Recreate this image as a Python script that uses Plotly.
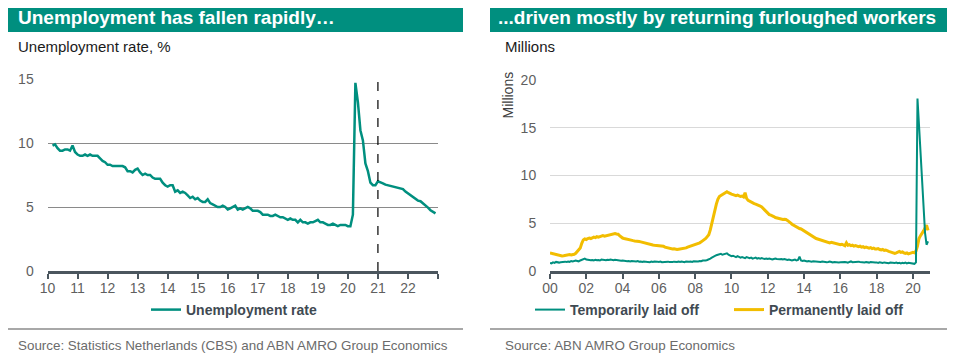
import plotly.graph_objects as go

W, H = 955, 361
# the page body adds an 8px margin around the figure; positions below are page pixels
PAGE_OFFSET = 8
TEAL = "#008f7f"
YELLOW = "#f2bd00"
FONT = "Liberation Sans, Arial, sans-serif"

# ---------------- Left chart data: unemployment rate, % (monthly) ----------------
left_start = (2010, 3)
unemployment_rate = [
    9.8, 9.9, 9.6, 9.4, 9.4, 9.5, 9.5, 9.4, 9.8, 9.3,
    9.1, 9.0, 9.0, 9.1, 9.0, 9.1, 9.0, 9.0, 9.0, 8.8, 8.6, 8.5,
    8.3, 8.3, 8.2, 8.2, 8.2, 8.2, 8.2, 8.1, 7.8, 7.8, 7.7, 7.9,
    8.0, 7.7, 7.5, 7.6, 7.5, 7.5, 7.3, 7.2, 7.2, 7.2, 6.9, 6.7,
    6.6, 6.7, 6.7, 6.2, 6.3, 6.1, 6.2, 6.1, 5.9, 5.7, 5.8, 5.6,
    5.7, 5.5, 5.4, 5.4, 5.6, 5.3, 5.2, 5.1, 5.0, 5.0, 5.1, 5.0,
    4.8, 4.9, 5.0, 5.1, 4.8, 4.9, 4.8, 4.9, 5.0, 4.9, 4.7, 4.7,
    4.7, 4.6, 4.4, 4.4, 4.4, 4.3, 4.3, 4.4, 4.3, 4.2, 4.2, 4.1,
    4.0, 4.1, 4.0, 4.0, 3.8, 4.0, 3.8, 3.8, 3.7, 3.8, 3.8, 3.9,
    4.0, 3.8, 3.8, 3.7, 3.6, 3.6, 3.7, 3.6, 3.5, 3.6, 3.6, 3.6,
    3.5, 3.5, 4.4, 14.7, 13.2, 11.0, 10.2, 8.4, 7.8, 6.9, 6.7, 6.7,
    7.0, 6.95, 6.85, 6.75, 6.7, 6.65, 6.6, 6.55, 6.5, 6.5, 6.4, 6.2,
    6.05, 5.9, 5.75, 5.6, 5.5, 5.45, 5.3, 5.1, 4.95, 4.75, 4.65, 4.5,
]
left_years = list(range(2010, 2024))
left_ticktext = ["10", "11", "12", "13", "14", "15", "16", "17", "18", "19", "20", "21", "22", ""]
left_yticks = [0, 5, 10, 15]
forecast_start = 2021

# ---------------- Right chart data: millions (monthly) ----------------
right_start = (2000, 1)
temporarily_laid_off = [
    0.85, 0.80, 0.90, 0.85, 0.95, 0.90, 0.88, 0.92, 0.95, 0.90, 0.98, 0.95,
    1.00, 0.95, 1.05, 1.00, 1.05, 1.10, 1.05, 1.00, 1.10, 1.15, 1.20, 1.30,
    1.20, 1.15, 1.10, 1.12, 1.15, 1.10, 1.18, 1.12, 1.15, 1.10, 1.20, 1.15,
    1.15, 1.12, 1.18, 1.15, 1.20, 1.15, 1.12, 1.18, 1.15, 1.10, 1.12, 1.08,
    1.10, 1.05, 1.08, 1.02, 1.05, 1.00, 1.05, 1.02, 0.98, 1.00, 1.05, 0.98,
    1.00, 0.95, 1.00, 0.98, 0.95, 1.00, 0.92, 0.98, 0.95, 1.00, 0.95, 0.98,
    0.95, 0.98, 0.92, 0.95, 1.00, 0.95, 0.98, 0.95, 0.92, 0.95, 0.98, 0.95,
    0.95, 1.00, 0.95, 1.00, 0.98, 0.92, 1.00, 0.95, 0.98, 1.00, 0.95, 1.02,
    1.00, 1.05, 1.00, 1.05, 1.02, 1.10, 1.08, 1.10, 1.15, 1.20, 1.30, 1.40,
    1.50, 1.60, 1.65, 1.70, 1.75, 1.80, 1.70, 1.75, 1.80, 1.85, 1.70, 1.65,
    1.55, 1.60, 1.50, 1.45, 1.55, 1.50, 1.40, 1.45, 1.40, 1.35, 1.45, 1.40,
    1.35, 1.40, 1.30, 1.35, 1.40, 1.30, 1.35, 1.30, 1.35, 1.30, 1.25, 1.30,
    1.25, 1.30, 1.25, 1.20, 1.25, 1.30, 1.25, 1.20, 1.22, 1.25, 1.20, 1.25,
    1.20, 1.15, 1.20, 1.15, 1.10, 1.15, 1.20, 1.10, 1.15, 1.50, 1.10, 1.05,
    1.10, 1.05, 1.00, 1.05, 1.00, 0.98, 1.02, 1.00, 0.95, 1.00, 0.98, 0.95,
    1.00, 0.95, 0.98, 0.92, 0.95, 1.00, 0.95, 0.90, 0.95, 0.92, 0.95, 0.90,
    0.92, 0.95, 0.90, 0.95, 0.92, 0.88, 0.95, 1.00, 0.92, 0.95, 0.90, 0.95,
    0.98, 0.95, 0.92, 0.95, 0.90, 0.95, 0.92, 0.88, 0.95, 0.90, 0.92, 0.88,
    0.90, 0.85, 0.92, 0.88, 0.85, 0.90, 0.88, 0.85, 0.82, 0.88, 0.85, 0.90,
    0.85, 0.88, 0.82, 0.85, 0.80, 0.85, 0.82, 0.88, 0.80, 0.85, 0.82, 0.80,
    0.80, 0.75, 0.90, 18.05, 15.3, 12.5, 9.6, 6.8, 4.0, 2.75, 3.1,
]
permanently_laid_off = [
    1.90, 1.85, 1.80, 1.75, 1.70, 1.65, 1.60, 1.62, 1.58, 1.60, 1.65, 1.70,
    1.75, 1.72, 1.68, 1.70, 1.75, 1.85, 2.00, 2.20, 2.40, 2.90, 3.25, 3.35,
    3.30, 3.40, 3.45, 3.40, 3.50, 3.55, 3.50, 3.60, 3.55, 3.60, 3.65, 3.70,
    3.65, 3.70, 3.75, 3.72, 3.80, 3.85, 3.90, 3.92, 3.88, 3.85, 3.70, 3.55,
    3.45, 3.40, 3.35, 3.30, 3.28, 3.25, 3.20, 3.18, 3.15, 3.10, 3.12, 3.08,
    3.05, 3.00, 2.95, 2.92, 2.90, 2.85, 2.80, 2.75, 2.72, 2.70, 2.68, 2.65,
    2.60, 2.58, 2.55, 2.60, 2.50, 2.45, 2.40, 2.38, 2.35, 2.30, 2.32, 2.28,
    2.25, 2.28, 2.30, 2.32, 2.35, 2.40, 2.42, 2.50, 2.55, 2.60, 2.65, 2.72,
    2.80, 2.85, 2.90, 2.95, 3.05, 3.15, 3.25, 3.40, 3.60, 3.80, 4.30, 5.00,
    5.80, 6.50, 7.00, 7.50, 7.80, 7.90, 8.00, 8.10, 8.20, 8.30, 8.20, 8.10,
    8.05, 8.00, 7.95, 7.90, 7.95, 7.85, 7.80, 7.85, 7.75, 8.20, 7.60, 7.40,
    7.30, 7.20, 7.10, 7.05, 7.00, 6.95, 6.90, 6.80, 6.70, 6.55, 6.40, 6.20,
    6.00, 5.90, 5.85, 5.80, 5.70, 5.60, 5.55, 5.50, 5.45, 5.42, 5.40, 5.42,
    5.40, 5.30, 5.20, 5.05, 4.90, 4.80, 4.70, 4.60, 4.50, 4.45, 4.40, 4.30,
    4.20, 4.05, 3.95, 3.90, 3.80, 3.70, 3.55, 3.45, 3.40, 3.35, 3.30, 3.25,
    3.15, 3.10, 3.05, 3.05, 3.00, 2.95, 3.00, 2.95, 2.90, 2.90, 2.85, 2.80,
    2.75, 2.80, 2.70, 2.65, 2.95, 2.70, 2.75, 2.65, 2.70, 2.60, 2.65, 2.60,
    2.55, 2.60, 2.50, 2.55, 2.45, 2.50, 2.45, 2.40, 2.45, 2.35, 2.40, 2.30,
    2.30, 2.35, 2.25, 2.20, 2.25, 2.15, 2.20, 2.10, 2.05, 2.00, 1.95, 1.90,
    1.85, 1.90, 2.00, 2.05, 1.95, 2.00, 1.90, 1.85, 1.90, 1.80, 1.85, 1.90,
    1.95, 1.90, 2.10, 2.60, 3.40, 3.70, 3.90, 4.20, 4.50, 4.80, 4.25,
]
right_years = list(range(2000, 2021, 2))
right_ticktext = ["00", "02", "04", "06", "08", "10", "12", "14", "16", "18", "20"]
right_yticks = [0, 5, 10, 15, 20]


def monthly_x(start, n):
    y0, m0 = start
    return [y0 + (m0 - 1 + i) / 12 for i in range(n)]


def px_x(p):
    return (p - PAGE_OFFSET) / W


def px_y(p):
    return 1 - (p - PAGE_OFFSET) / H


fig = go.Figure()

fig.add_trace(go.Scatter(
    x=monthly_x(left_start, len(unemployment_rate)), y=unemployment_rate,
    mode="lines", line=dict(color=TEAL, width=2.5),
    name="<b>Unemployment rate</b>", xaxis="x", yaxis="y", legend="legend",
))
fig.add_trace(go.Scatter(
    x=monthly_x(right_start, len(permanently_laid_off)), y=permanently_laid_off,
    mode="lines", line=dict(color=YELLOW, width=3),
    name="<b>Permanently laid off</b>", xaxis="x2", yaxis="y2", legend="legend2", legendrank=2,
))
fig.add_trace(go.Scatter(
    x=monthly_x(right_start, len(temporarily_laid_off)), y=temporarily_laid_off,
    mode="lines", line=dict(color=TEAL, width=2),
    name="<b>Temporarily laid off</b>", xaxis="x2", yaxis="y2", legend="legend2", legendrank=1,
))

AXIS_DARK = "#4b565e"
TICK_GREY = "#5f5f5f"

common_x = dict(showgrid=False, showline=True, linecolor=AXIS_DARK, linewidth=3,
                ticks="outside", ticklen=5, tickwidth=2, tickcolor=AXIS_DARK,
                tickfont=dict(family=FONT, size=14, color=TICK_GREY),
                ticklabelstandoff=-3, automargin=False,
                zeroline=False, fixedrange=True)
common_y = dict(showline=False, zeroline=False, ticks="outside", ticklen=10,
                tickcolor="rgba(0,0,0,0)", tickfont=dict(family=FONT, size=14, color=TICK_GREY),
                automargin=False, fixedrange=True)

fig.update_layout(
    width=W, height=H, autosize=False,
    margin=dict(l=0, r=0, t=0, b=0, pad=0, autoexpand=False),
    paper_bgcolor="white", plot_bgcolor="white",
    font=dict(family=FONT),
    xaxis=dict(domain=[px_x(47.5), px_x(438)], range=[left_years[0], left_years[-1]],
               tickvals=left_years, ticktext=left_ticktext, anchor="y", **common_x),
    yaxis=dict(domain=[px_y(271), px_y(79)], range=[0, 15], tickvals=left_yticks,
               showgrid=True, gridcolor="#8a8a8a", gridwidth=1, anchor="x", **common_y),
    xaxis2=dict(domain=[px_x(550), px_x(930)], range=[2000, 2020.94],
                tickvals=right_years, ticktext=right_ticktext, anchor="y2", **common_x),
    yaxis2=dict(domain=[px_y(271), px_y(80)], range=[0, 20], tickvals=right_yticks,
                showgrid=True, gridcolor="#d9d9d9", gridwidth=1, anchor="x2", **common_y),
    legend=dict(orientation="h", x=px_x(234), xanchor="center", y=px_y(310), yanchor="middle",
                font=dict(family=FONT, size=14, color="#3f4a52"), bgcolor="rgba(0,0,0,0)"),
    legend2=dict(orientation="h", x=px_x(530), xanchor="left", y=px_y(310), yanchor="middle",
                 entrywidth=154, entrywidthmode="pixels",
                 font=dict(family=FONT, size=14, color="#3f4a52"), bgcolor="rgba(0,0,0,0)"),
    showlegend=True,
)

shapes = []
# title bars and separator lines
for x0, x1 in [(2, 463), (490, 952)]:
    shapes.append(dict(type="rect", xref="paper", yref="paper", x0=px_x(x0), x1=px_x(x1),
                       y0=px_y(32), y1=px_y(3), fillcolor=TEAL, line=dict(width=0), layer="below"))
    shapes.append(dict(type="line", xref="paper", yref="paper", x0=px_x(x0), x1=px_x(x1),
                       y0=px_y(329), y1=px_y(329), line=dict(color="#a8a8a8", width=2)))
# dashed forecast line
shapes.append(dict(type="line", xref="x", yref="y", x0=forecast_start, x1=forecast_start,
                   y0=0, y1=15, line=dict(color="black", width=1.2, dash="dash")))
fig.update_layout(shapes=shapes)

annotations = [
    dict(text="<b>Unemployment has fallen rapidly…</b>", x=px_x(16), y=px_y(18),
         font=dict(family=FONT, size=19, color="white")),
    dict(text="<b>...driven mostly by returning furloughed workers</b>", x=px_x(496), y=px_y(18),
         font=dict(family=FONT, size=19, color="white")),
    dict(text="Unemployment rate, %", x=px_x(16), y=px_y(46),
         font=dict(family=FONT, size=15, color="#1a1a1a")),
    dict(text="Millions", x=px_x(503), y=px_y(46),
         font=dict(family=FONT, size=15, color="#1a1a1a")),
    dict(text="Source: Statistics Netherlands (CBS) and ABN AMRO Group Economics", x=px_x(16), y=px_y(345),
         font=dict(family=FONT, size=13.4, color="#6b6b6b")),
    dict(text="Source: ABN AMRO Group Economics", x=px_x(503), y=px_y(345),
         font=dict(family=FONT, size=13.4, color="#6b6b6b")),
]
for a in annotations:
    a.update(xref="paper", yref="paper", xanchor="left", yanchor="middle", showarrow=False)
annotations.append(dict(text="Millions", textangle=-90, x=px_x(507.5), y=px_y(95), xref="paper", yref="paper",
                        xanchor="center", yanchor="middle", showarrow=False,
                        font=dict(family=FONT, size=14, color="#404040")))
fig.update_layout(annotations=annotations)

fig.write_html("out.html")
